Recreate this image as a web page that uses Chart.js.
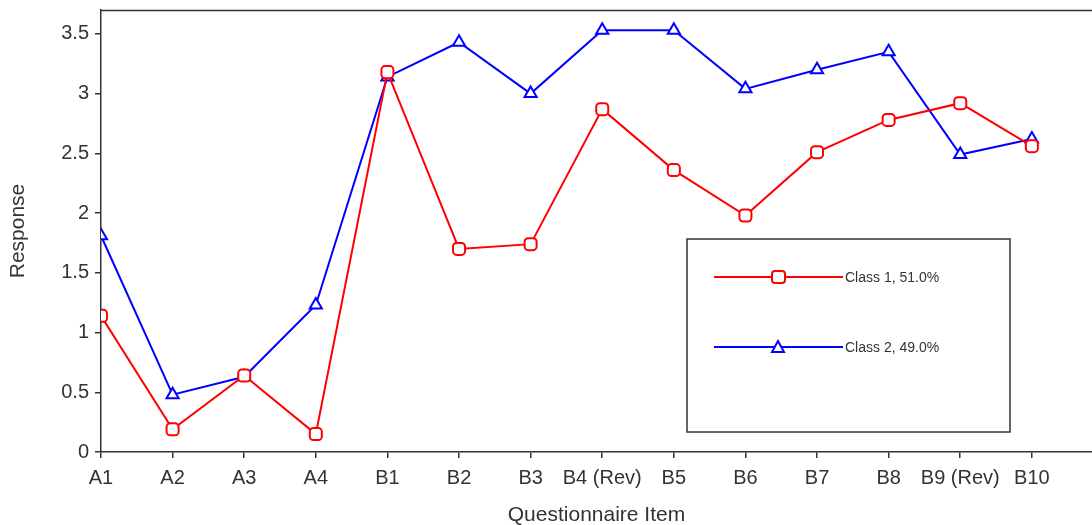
<!DOCTYPE html>
<html>
<head>
<meta charset="utf-8">
<script src="https://cdn.jsdelivr.net/npm/chart.js@4.4.1/dist/chart.umd.min.js"></script>
<style>
  html, body { margin: 0; padding: 0; background: #fff; }
  #wrap { width: 1092px; height: 525px; }
</style>
</head>
<body>
<div id="wrap"><canvas id="chartjs-0" width="1092" height="525"></canvas></div>
<script>
// questionnaire items along the x axis
var items = ["A1", "A2", "A3", "A4", "B1", "B2", "B3", "B4 (Rev)", "B5", "B6", "B7", "B8", "B9 (Rev)", "B10"];

// mean response per item
var class1 = [1.14, 0.19, 0.64, 0.15, 3.18, 1.70, 1.74, 2.87, 2.36, 1.98, 2.51, 2.78, 2.92, 2.56];
var class2 = [1.81, 0.48, 0.63, 1.23, 3.14, 3.43, 3.00, 3.53, 3.53, 3.04, 3.20, 3.35, 2.49, 2.62];

var class1Label = "Class 1, 51.0%";
var class2Label = "Class 2, 49.0%";

var yTicks = [0, 0.5, 1, 1.5, 2, 2.5, 3, 3.5];

function toPoints(vals) {
    var pts = [];
    for (var i = 0; i < vals.length; i++) {
        pts.push({ x: i, y: vals[i] });
    }
    return pts;
}

var axisColor = "#333";
var textColor = "#333";
var fontFam = "'Liberation Sans', Arial, sans-serif";

// top frame line + boxed legend in the lower right
var framePlugin = {
    id: "frame",
    afterDatasetsDraw: function(chart) {
        var ctx = chart.ctx;
        var a = chart.chartArea;
        ctx.save();
        ctx.strokeStyle = axisColor;
        ctx.lineWidth = 1.5;
        ctx.beginPath();
        ctx.moveTo(a.left, a.top + 0.5);
        ctx.lineTo(a.right, a.top + 0.5);
        ctx.stroke();

        // legend box
        ctx.fillStyle = "#fff";
        ctx.fillRect(687, 239, 323, 193);
        ctx.strokeRect(687, 239, 323, 193);

        var ds = chart.data.datasets;
        var rows = [277, 347];
        ctx.font = "14px " + fontFam;
        ctx.textBaseline = "middle";
        for (var i = 0; i < ds.length; i++) {
            var y = rows[i];
            ctx.strokeStyle = ds[i].borderColor;
            ctx.lineWidth = 2;
            ctx.beginPath();
            ctx.moveTo(714, y);
            ctx.lineTo(843, y);
            ctx.stroke();
            ctx.fillStyle = "#fff";
            if (ds[i].pointStyle === "rectRounded") {
                ctx.beginPath();
                ctx.roundRect(772, y - 6, 13, 12, 3);
                ctx.fill();
                ctx.stroke();
            } else {
                ctx.beginPath();
                ctx.moveTo(778, y - 6);
                ctx.lineTo(784, y + 5);
                ctx.lineTo(772, y + 5);
                ctx.closePath();
                ctx.fill();
                ctx.stroke();
            }
            ctx.fillStyle = textColor;
            ctx.fillText(ds[i].label, 845, y + 1);
        }
        ctx.restore();
    }
};

var chart0 = new Chart(document.getElementById("chartjs-0"), {
    type: "line",
    data: {
        datasets: [{
            label: class1Label,
            data: toPoints(class1),
            borderColor: "#ff0000",
            backgroundColor: "#ffffff",
            borderWidth: 2,
            pointStyle: "rectRounded",
            pointRadius: 7,
            pointBorderWidth: 2,
            pointBackgroundColor: "#ffffff",
            tension: 0,
            fill: false
        }, {
            label: class2Label,
            data: toPoints(class2),
            borderColor: "#0000ff",
            backgroundColor: "#ffffff",
            borderWidth: 2,
            pointStyle: "triangle",
            pointRadius: 7,
            pointBorderWidth: 2,
            pointBackgroundColor: "#ffffff",
            tension: 0,
            fill: false
        }]
    },
    options: {
        responsive: false,
        animation: false,
        layout: { autoPadding: false, padding: { top: 10, right: 0, left: 0, bottom: 0 } },
        plugins: {
            legend: { display: false },
            tooltip: { enabled: false }
        },
        scales: {
            x: {
                type: "linear",
                min: 0,
                max: 13.84,
                afterBuildTicks: function(scale) {
                    scale.ticks = [];
                    for (var i = 0; i < items.length; i++) scale.ticks.push({ value: i });
                },
                afterFit: function(scale) { scale.height = 73; },
                grid: { drawOnChartArea: false, drawTicks: true, tickLength: 6, color: axisColor, lineWidth: 1.5 },
                border: { display: true, color: axisColor, width: 1.5 },
                ticks: {
                    autoSkip: false,
                    maxRotation: 0,
                    padding: 8,
                    color: textColor,
                    font: { family: fontFam, size: 20 },
                    callback: function(v) { return items[v]; }
                },
                title: {
                    display: true,
                    text: "Questionnaire Item",
                    color: textColor,
                    padding: { top: 4, bottom: -3 },
                    font: { family: fontFam, size: 21 }
                }
            },
            y: {
                type: "linear",
                min: 0,
                max: 3.7,
                afterBuildTicks: function(scale) {
                    scale.ticks = yTicks.map(function(v) { return { value: v }; });
                },
                afterFit: function(scale) {
                    scale.width = 101;
                    scale.paddingTop = 0;
                    scale.paddingBottom = 0;
                },
                grid: { drawOnChartArea: false, drawTicks: true, tickLength: 6, color: axisColor, lineWidth: 1.5 },
                border: { display: true, color: axisColor, width: 1.5 },
                ticks: {
                    padding: 6,
                    color: textColor,
                    font: { family: fontFam, size: 20 },
                    callback: function(v) { return String(v); }
                },
                title: {
                    display: true,
                    text: "Response",
                    color: textColor,
                    padding: { top: 6, bottom: 0 },
                    font: { family: fontFam, size: 21 }
                }
            }
        }
    },
    plugins: [framePlugin]
});
</script>
</body>
</html>
